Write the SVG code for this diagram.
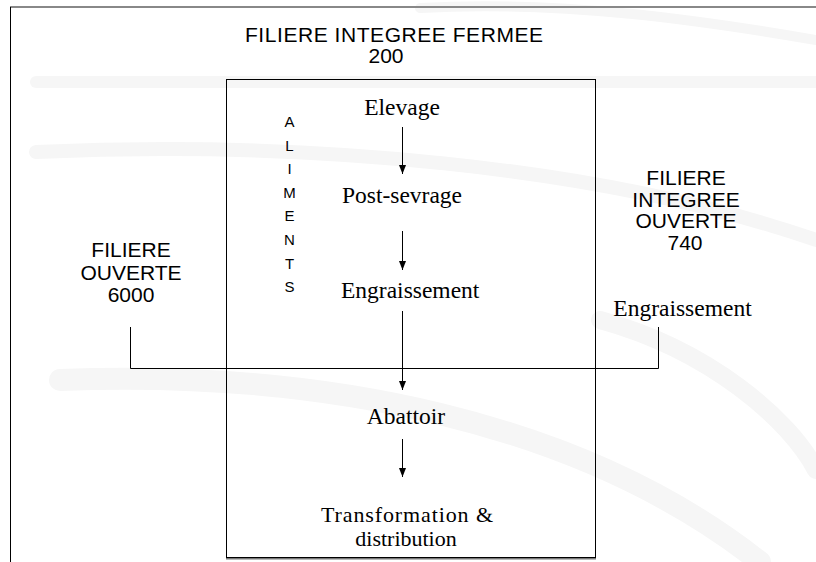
<svg xmlns="http://www.w3.org/2000/svg" width="816" height="562" viewBox="0 0 816 562">
  <style>
    .bg { fill: none; stroke: #f6f6f6; stroke-linecap: round; }
    .comic { font-family: "Liberation Sans", "DejaVu Sans", sans-serif; font-size: 21px; fill: #000; text-anchor: middle; }
    .small { font-size: 15px; }
    .serif { font-family: "Liberation Serif", "Times New Roman", serif; font-size: 23.5px; fill: #000; text-anchor: middle; }
    .ln { fill: none; stroke: #000; stroke-width: 1; }
    .arr { fill: none; stroke: #000; stroke-width: 1; marker-end: url(#ah); }
  </style>
  <defs>
    <marker id="ah" markerUnits="userSpaceOnUse" markerWidth="9" markerHeight="7" refX="9" refY="3.5" orient="auto" viewBox="0 0 9 7">
      <path d="M0,0 L9,3.5 L0,7 Z" fill="#000"/>
    </marker>
  </defs>
  <rect width="816" height="562" fill="#fff"/>
  <g id="background">
    <path class="bg" d="M 36 82 L 816 82" stroke-width="12"/>
    <path class="bg" d="M 36 152 C 300 140 600 165 816 240" stroke-width="14"/>
    <path class="bg" d="M 420 8 C 560 0 700 20 816 40" stroke-width="10"/>
    <path class="bg" d="M 60 380 C 320 370 580 420 760 562" stroke-width="22"/>
    <path class="bg" d="M 600 320 C 710 350 790 420 816 470" stroke-width="18"/>
  </g>
  <g id="frame">
    <line x1="10" y1="7" x2="816" y2="7" stroke="#888" stroke-width="2"/>
    <line x1="10.5" y1="7" x2="10.5" y2="562" stroke="#000" stroke-width="1"/>
  </g>
  <g id="box-filiere-fermee">
    <line x1="226" y1="558.5" x2="596" y2="558.5" stroke="#777" stroke-width="2"/>
    <rect x="226.5" y="79.5" width="369" height="478" fill="none" stroke="#000" stroke-width="1"/>
  </g>
  <g id="title-fermee">
    <text class="comic" x="394" y="42" textLength="298">FILIERE INTEGREE FERMEE</text>
    <text class="comic" x="386" y="63">200</text>
  </g>
  <g id="aliments">
    <text class="comic small" x="289.5" y="127">A</text>
    <text class="comic small" x="289.5" y="150.6">L</text>
    <text class="comic small" x="289.5" y="174.2">I</text>
    <text class="comic small" x="289.5" y="197.8">M</text>
    <text class="comic small" x="289.5" y="221.4">E</text>
    <text class="comic small" x="289.5" y="245">N</text>
    <text class="comic small" x="289.5" y="268.6">T</text>
    <text class="comic small" x="289.5" y="292.2">S</text>
  </g>
  <g id="elevage"><text class="serif" x="402" y="115">Elevage</text></g>
  <g id="post-sevrage"><text class="serif" x="402" y="203">Post-sevrage</text></g>
  <g id="engraissement-fermee"><text class="serif" x="341" y="298" style="text-anchor:start">Engraissement</text></g>
  <g id="abattoir"><text class="serif" x="406" y="424">Abattoir</text></g>
  <g id="transformation">
    <text class="serif" x="407" y="522" style="font-size:22px" textLength="172">Transformation &amp;</text>
    <text class="serif" x="406" y="546" style="font-size:22px">distribution</text>
  </g>
  <g id="filiere-ouverte">
    <text class="comic" x="131" y="257">FILIERE</text>
    <text class="comic" x="131" y="280">OUVERTE</text>
    <text class="comic" x="131" y="302">6000</text>
  </g>
  <g id="filiere-integree-ouverte">
    <text class="comic" x="686" y="185">FILIERE</text>
    <text class="comic" x="686" y="206.5">INTEGREE</text>
    <text class="comic" x="686" y="228">OUVERTE</text>
    <text class="comic" x="685" y="250">740</text>
    <text class="serif" x="682.5" y="316">Engraissement</text>
  </g>
  <g id="connectors">
    <polyline class="ln" points="130.5,327 130.5,368.5 658.5,368.5 658.5,327"/>
    <line class="arr" x1="402.5" y1="127" x2="402.5" y2="174"/>
    <line class="arr" x1="402.5" y1="231" x2="402.5" y2="270"/>
    <line class="arr" x1="402.5" y1="311" x2="402.5" y2="390"/>
    <line class="arr" x1="402.5" y1="439" x2="402.5" y2="477"/>
  </g>
</svg>
